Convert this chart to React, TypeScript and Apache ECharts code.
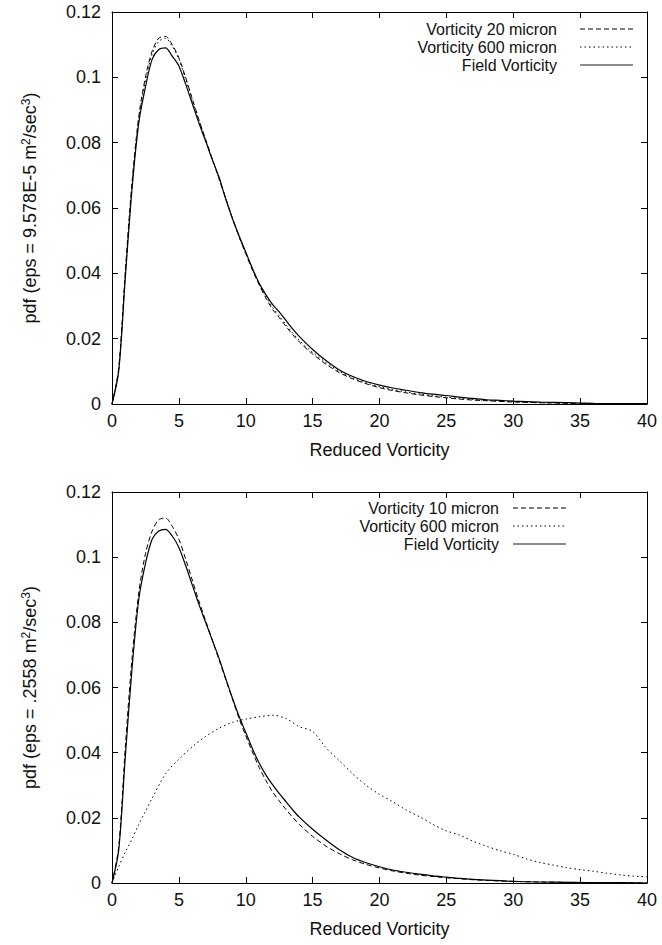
import React, { useEffect, useRef } from "react";
import * as echarts from "echarts";

// x positions (reduced vorticity) used for the narrow pdfs
const xsMain = [0, 0.5, 1, 1.5, 2, 2.5, 3, 3.5, 4, 4.5, 5, 5.5, 6, 6.5, 7, 7.5, 8, 8.5, 9, 9.5, 10, 10.5, 11, 11.5, 12, 12.5, 13, 13.5, 14,
  15, 16, 17, 18, 19, 20, 21, 22, 23, 24, 25, 26, 27, 28, 29, 30, 32, 34, 36, 38, 40];

// top panel (eps = 9.578E-5)
const top20 = [0, 0.011, 0.041, 0.068, 0.088, 0.100, 0.108, 0.112, 0.1125, 0.110, 0.106, 0.100, 0.0935, 0.087, 0.081, 0.075, 0.069, 0.063, 0.057, 0.0512, 0.046, 0.041, 0.0365, 0.0325, 0.029, 0.0265, 0.0238, 0.0213, 0.019,
  0.0153, 0.0122, 0.0096, 0.0077, 0.0062, 0.005, 0.0041, 0.0034, 0.0028, 0.0023, 0.0019, 0.0015, 0.0012, 0.001, 0.0008, 0.0006, 0.0004, 0.0002, 0.0001, 0.0001, 0];
const top600 = [0, 0.0105, 0.040, 0.067, 0.087, 0.099, 0.107, 0.111, 0.112, 0.1095, 0.1055, 0.0995, 0.093, 0.0868, 0.0808, 0.0748, 0.069, 0.063, 0.057, 0.0512, 0.0462, 0.0413, 0.0368, 0.033, 0.0296, 0.027, 0.0243, 0.0218, 0.0195,
  0.0158, 0.0127, 0.01, 0.008, 0.0065, 0.0053, 0.0044, 0.0037, 0.003, 0.0025, 0.0021, 0.0017, 0.0014, 0.0011, 0.0009, 0.0007, 0.0004, 0.0003, 0.0002, 0.0001, 0.0001];
const topField = [0, 0.010, 0.039, 0.066, 0.086, 0.097, 0.1055, 0.1085, 0.109, 0.1065, 0.1035, 0.098, 0.092, 0.086, 0.0805, 0.0748, 0.0695, 0.0628, 0.0568, 0.0515, 0.0465, 0.0415, 0.037, 0.0335, 0.0305, 0.0282, 0.0256, 0.023, 0.0207,
  0.0167, 0.0133, 0.0104, 0.0084, 0.0069, 0.0058, 0.0049, 0.0042, 0.0035, 0.003, 0.0026, 0.0021, 0.0017, 0.0013, 0.0011, 0.0009, 0.0006, 0.0004, 0.0002, 0.0001, 0.0001];

// bottom panel (eps = .2558)
const bot10 = [0, 0.011, 0.042, 0.069, 0.089, 0.101, 0.108, 0.1115, 0.112, 0.1095, 0.1055, 0.0995, 0.093, 0.0865, 0.0805, 0.0745, 0.0685, 0.0625, 0.0565, 0.0505, 0.0452, 0.0402, 0.0355, 0.0315, 0.028, 0.0252, 0.0226, 0.0202, 0.018,
  0.0143, 0.0113, 0.009, 0.0071, 0.0057, 0.0046, 0.0037, 0.003, 0.0024, 0.002, 0.0016, 0.0013, 0.001, 0.0008, 0.0006, 0.0005, 0.0003, 0.0002, 0.0001, 0.0001, 0];
const botField = [0, 0.010, 0.039, 0.066, 0.087, 0.098, 0.1055, 0.108, 0.1085, 0.1065, 0.103, 0.0975, 0.0915, 0.0855, 0.08, 0.0745, 0.069, 0.0628, 0.0568, 0.0512, 0.0462, 0.0412, 0.0368, 0.0332, 0.0302, 0.0275, 0.025, 0.0225, 0.0202,
  0.0165, 0.0132, 0.0102, 0.0078, 0.0062, 0.005, 0.004, 0.0033, 0.0027, 0.0022, 0.0018, 0.0014, 0.0011, 0.0009, 0.0007, 0.0005, 0.0003, 0.0002, 0.0001, 0.0001, 0];

const xsWide = [0, 0.5, 1, 1.5, 2, 2.5, 3, 4, 5, 6, 7, 8, 9, 10, 11, 12, 13, 14, 15, 16, 17, 18, 19, 20, 21, 22, 23, 24, 25, 26, 27, 28, 29, 30,
  31, 32, 33, 34, 35, 36, 37, 38, 39, 40];
const bot600 = [0, 0.005, 0.0095, 0.0135, 0.018, 0.022, 0.026, 0.0335, 0.038, 0.0418, 0.045, 0.0475, 0.0493, 0.0503, 0.051, 0.0515, 0.0505, 0.048, 0.0465, 0.0415, 0.0375, 0.0335, 0.030, 0.0272, 0.0249, 0.0224, 0.0203, 0.018, 0.016, 0.0147, 0.0128, 0.0113, 0.0099, 0.0088,
  0.0074, 0.0063, 0.0055, 0.0047, 0.0041, 0.0036, 0.003, 0.0025, 0.0021, 0.0019];

const xTicks = { min: 0, max: 40, interval: 5 };
const yTicks = { min: 0, max: 0.12, interval: 0.02 };

const topLegend = ["Vorticity 20 micron", "Vorticity 600 micron", "Field Vorticity"];
const botLegend = ["Vorticity 10 micron", "Vorticity 600 micron", "Field Vorticity"];
const topYName = "pdf (eps = 9.578E-5 m{sup|2}/sec{sup|3})";
const botYName = "pdf (eps = .2558 m{sup|2}/sec{sup|3})";
const xName = "Reduced Vorticity";

const FONT = "'Liberation Sans', Arial, Helvetica, sans-serif";
const INK = "#111";
const DASH = [5, 3];
const DOT = [1.5, 3];

const pair = (xs: number[], ys: number[]) => xs.map((x, i) => [x, ys[i]]);

export default function App() {
  const ref = useRef<HTMLDivElement>(null);
  useEffect(() => {
    if (!ref.current) return;
    const chart = echarts.init(ref.current, undefined, { renderer: "svg" });
    const grids = [
      { left: 112, top: 12, width: 535, height: 392 },
      { left: 112, top: 492, width: 535, height: 391 },
    ];
    const axisLine = { show: true, onZero: false, lineStyle: { color: "#000", width: 1 } };
    const tick = { show: true, inside: true, length: 6, lineStyle: { color: "#000", width: 1 } };
    const xAxes: any[] = [];
    const yAxes: any[] = [];
    [0, 1].forEach((g) => {
      xAxes.push({
        gridIndex: g, type: "value", position: "bottom", ...xTicks,
        axisLine, axisTick: tick, splitLine: { show: false },
        axisLabel: { fontSize: 18, color: INK, fontFamily: FONT, margin: 8 },
        name: xName, nameLocation: "middle", nameGap: 37,
        nameTextStyle: { fontSize: 18, color: INK, fontFamily: FONT },
      });
      xAxes.push({
        gridIndex: g, type: "value", position: "top", ...xTicks,
        axisLine, axisTick: tick, splitLine: { show: false }, axisLabel: { show: false },
      });
      yAxes.push({
        gridIndex: g, type: "value", position: "left", ...yTicks,
        axisLine, axisTick: tick, splitLine: { show: false },
        axisLabel: { fontSize: 18, color: INK, fontFamily: FONT, margin: 11 },
        name: g === 0 ? topYName : botYName, nameLocation: "middle", nameRotate: 90, nameGap: 72,
        nameTextStyle: {
          fontSize: 18, color: INK, fontFamily: FONT,
          rich: { sup: { fontSize: 12, verticalAlign: "top", padding: [0, 0, 8, 0], color: INK, fontFamily: FONT } },
        },
      });
      yAxes.push({
        gridIndex: g, type: "value", position: "right", ...yTicks,
        axisLine, axisTick: tick, splitLine: { show: false }, axisLabel: { show: false },
      });
    });
    const line = (name: string, xi: number, yi: number, data: number[][], dash: any, w = 1) => ({
      name, type: "line", xAxisIndex: xi, yAxisIndex: yi, data, showSymbol: false, symbol: "none",
      smooth: 0.3, lineStyle: { color: "#000", width: w, type: dash },
      emphasis: { disabled: true }, silent: true,
    });
    const series = [
      line(topLegend[0], 0, 0, pair(xsMain, top20), DASH),
      line(topLegend[1], 0, 0, pair(xsMain, top600), DOT),
      line(topLegend[2], 0, 0, pair(xsMain, topField), "solid", 1.2),
      line(botLegend[0], 2, 2, pair(xsMain, bot10), DASH),
      line(botLegend[1] + " ", 2, 2, pair(xsWide, bot600), DOT),
      line(botLegend[2] + " ", 2, 2, pair(xsMain, botField), "solid", 1.2),
    ];
    const legendEls = (labels: string[], textRight: number, lineX1: number, lineX2: number, ys: number[]) => {
      const styles = [DASH, DOT, null];
      const els: any[] = [];
      labels.forEach((t, i) => {
        els.push({
          type: "text", x: textRight, y: ys[i], silent: true,
          style: { text: t, textAlign: "right", textVerticalAlign: "middle", fontSize: 16, lineHeight: 16, fontFamily: FONT, fill: INK },
        });
        els.push({
          type: "line", silent: true,
          shape: { x1: lineX1, y1: ys[i], x2: lineX2, y2: ys[i] },
          style: { stroke: i === 2 ? "#666" : "#000", lineWidth: i === 2 ? 1.5 : 1, lineDash: styles[i] || undefined },
        });
      });
      return els;
    };
    chart.setOption({
      animation: false,
      backgroundColor: "#fff",
      textStyle: { fontFamily: FONT },
      grid: grids,
      xAxis: xAxes,
      yAxis: yAxes,
      series,
      graphic: [
        ...legendEls(topLegend, 557, 580, 633, [29, 47, 65]),
        ...legendEls(botLegend, 499, 513, 566, [508, 526, 544]),
      ],
    });
    return () => chart.dispose();
  }, []);
  return <div ref={ref} style={{ position: "fixed", left: 0, top: 0, width: 662, height: 945, background: "#fff" }} />;
}
